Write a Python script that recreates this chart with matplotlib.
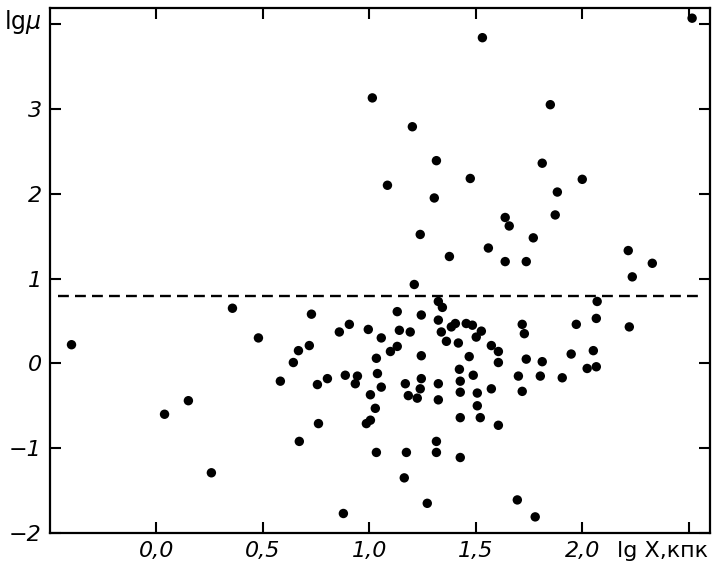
import matplotlib
matplotlib.use("Agg")
import matplotlib.pyplot as plt

# data (lg X [kpc], lg mu)
lgX = [2.516, 1.531, 1.014, 1.850, 1.202, 1.315, 1.812, 1.085, 1.474, 2.000,
       1.305, 1.883, 1.638, 1.873, 1.657, 1.239, 1.770, 1.559, 1.376, 1.638,
       1.737, 2.216, 2.329, 2.235, 1.211,
       2.070, 2.066, 2.221, 1.972, 0.357, -0.399, 0.479, 0.728, 0.906, 0.859,
       0.995, 1.056, 1.131, 1.141, 1.192, 1.244, 1.324, 1.343, 1.324, 1.338,
       1.385, 1.404, 1.455, 1.484, 1.526, 1.502, 1.362, 1.418, 0.718, 0.667,
       0.643, 1.131, 1.099, 1.033, 1.244, 1.469, 1.573, 1.606, 1.606, 1.718,
       1.728, 1.737, 1.812, 1.948, 2.052, 2.023, 2.066,
       1.423, 1.488, 1.700, 1.803, 1.906, 1.718, 1.573, 1.427, 1.427, 1.507,
       1.507, 1.521, 1.427, 1.606, 0.582, 0.756, 0.803, 0.887, 0.944, 0.934,
       1.038, 1.056, 1.005, 1.028, 1.005, 0.986, 0.761, 0.671, 1.033, 1.174,
       1.164, 1.272, 0.878, 1.169, 1.183, 1.244, 1.239, 1.225, 1.324, 1.324,
       1.315, 1.315, 1.427, 1.695, 1.779, 0.038, 0.150, 0.258]
lgMu = [4.07, 3.84, 3.13, 3.05, 2.79, 2.39, 2.36, 2.10, 2.18, 2.17,
        1.95, 2.02, 1.72, 1.75, 1.62, 1.52, 1.48, 1.36, 1.26, 1.20,
        1.20, 1.33, 1.18, 1.02, 0.93,
        0.73, 0.53, 0.43, 0.46, 0.65, 0.22, 0.30, 0.58, 0.46, 0.37,
        0.40, 0.30, 0.61, 0.39, 0.37, 0.57, 0.73, 0.66, 0.51, 0.37,
        0.43, 0.47, 0.47, 0.45, 0.38, 0.31, 0.26, 0.24, 0.21, 0.15,
        0.01, 0.20, 0.14, 0.06, 0.09, 0.08, 0.21, 0.14, 0.01, 0.46,
        0.35, 0.05, 0.02, 0.11, 0.15, -0.06, -0.04,
        -0.07, -0.14, -0.15, -0.15, -0.17, -0.33, -0.30, -0.21, -0.34, -0.35,
        -0.50, -0.64, -0.64, -0.73, -0.21, -0.25, -0.18, -0.14, -0.15, -0.24,
        -0.12, -0.28, -0.37, -0.53, -0.67, -0.71, -0.71, -0.92, -1.05, -1.05,
        -1.35, -1.65, -1.77, -0.24, -0.38, -0.18, -0.30, -0.41, -0.24, -0.43,
        -0.92, -1.05, -1.11, -1.61, -1.81, -0.60, -0.44, -1.29]

threshold = 0.8
xticks = [0.0, 0.5, 1.0, 1.5, 2.0, 2.5]
xticklabels = ["0,0", "0,5", "1,0", "1,5", "2,0", ""]
yticks = [-2, -1, 0, 1, 2, 3, 4]
yticklabels = ["\u22122", "\u22121", "0", "1", "2", "3", ""]

W, H = 717, 569
fig = plt.figure(figsize=(W / 100, H / 100), dpi=100)
ax = fig.add_axes([50 / W, 1 - 533 / H, 660 / W, 525 / H])

ax.scatter(lgX, lgMu, s=46, color="black", edgecolors="none", zorder=3)
ax.plot([-0.462, 2.563], [threshold, threshold], color="black", lw=1.7,
        linestyle=(0, (4.6, 2.6)))

ax.set_xlim(-0.5, 2.6)
ax.set_ylim(-2.0, 4.19)
ax.set_xticks(xticks)
ax.set_xticklabels(xticklabels, fontsize=16, fontstyle="italic")
ax.set_yticks(yticks)
ax.set_yticklabels(yticklabels, fontsize=16, fontstyle="italic")
ax.tick_params(direction="in", length=8, width=1.5, top=True, right=True,
               pad=6)
for sp in ax.spines.values():
    sp.set_linewidth(1.6)

fig.text(4 / W, 1 - 29 / H, "lg$\\mu$", fontsize=17,
         ha="left", va="baseline")
fig.text(708 / W, 1 - 557 / H, "lg X,кпк", fontsize=16,
         ha="right", va="baseline")

fig.savefig("out.png", dpi=100)
